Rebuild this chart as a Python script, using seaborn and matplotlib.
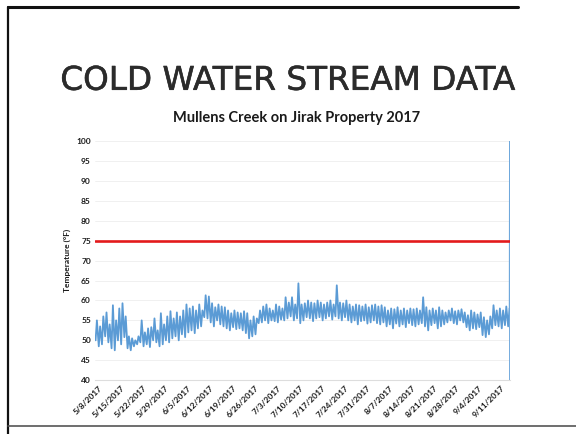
import matplotlib
matplotlib.use("Agg")
import matplotlib.pyplot as plt
import matplotlib.patheffects as pe
from matplotlib.lines import Line2D
import seaborn as sns
import pandas as pd

# daily stream temperature readings (deg F), 5/7/2017 .. 9/13/2017
start_day = "2017-05-07"
daily_lows = [
    50, 48.5, 49, 51, 49.5, 48, 47.5, 50, 49, 50.8,
    48, 47.5, 48.5, 49, 49.5, 48.5, 49, 48.3, 50, 49.5,
    48.5, 49, 50, 49.5, 50.5, 51, 50, 51.5, 50.8, 52,
    52.5, 51.8, 53, 53.5, 55.8, 55.5, 54.5, 53.5, 55, 54,
    53.5, 53, 52.5, 53.3, 52.8, 53, 52.5, 51.8, 50.5, 51,
    51.5, 54.3, 54.5, 55, 54.3, 55, 54.8, 54.5, 55.2, 55,
    55.5, 56, 55, 55.5, 54.3, 55, 55.8, 55.5, 54.8, 55.5,
    55.8, 55, 55.5, 56, 55.2, 56, 55.5, 55, 55.8, 55,
    54.5, 55, 54, 54.8, 55, 54.2, 54.5, 55, 54.3, 54,
    54.5, 53.5, 54, 53, 54.2, 53.5, 54, 53.3, 54.3, 53.8,
    53.5, 54, 54.3, 53.5, 52.5, 53.8, 54.3, 53, 53.5, 54,
    54.5, 55, 54.3, 54, 55, 54.5, 53.3, 52.5, 53, 52.8,
    53.3, 51.3, 50.8, 51.5, 53, 53.8, 53.5, 53, 53.8, 53.5,
]
daily_highs = [
    55, 53.5, 56, 57, 54, 58.8, 55, 58, 59.3, 56,
    51, 50.5, 50, 51, 55, 52, 53, 53.3, 55.5, 52.5,
    56.8, 54, 56, 57.3, 55.5, 57, 56, 57.5, 59, 58,
    58.5, 57.5, 59, 57.5, 61.3, 61, 59.3, 58.3, 59, 58.5,
    58.3, 57.5, 56.8, 57.5, 57, 56.8, 57.3, 56.8, 55, 56,
    55.5, 57.5, 58.5, 59, 58, 57.5, 59, 58.5, 58, 60.8,
    59.5, 60.8, 59, 64.3, 59, 59.3, 60, 59.5, 59.3, 60,
    59.5, 59, 59.5, 60, 59, 63.8, 59.5, 59.3, 60, 59,
    58.5, 59, 58.8, 58.5, 59, 58.3, 58.8, 59, 58.5, 58.8,
    58.3, 57.5, 58, 57.8, 58.3, 57.5, 58, 57.5, 58, 57.8,
    58, 57.5, 60.8, 58.3, 57.5, 58, 57.5, 58.3, 57.5, 57,
    57.5, 58, 57.3, 57.5, 57.8, 57, 56.3, 57.5, 57, 56.5,
    57, 55.8, 55, 56, 58.8, 57.5, 58, 57.5, 58.5, 58,
]
# logger pulled out of the water at the end of the season
retrieval_temps = [101, 39]
threshold_f = 75

days = pd.date_range(start_day, periods=len(daily_lows), freq="D")
rows = []
for d, lo, hi in zip(days, daily_lows, daily_highs):
    rows.append((d + pd.Timedelta(hours=4), lo))
    rows.append((d + pd.Timedelta(hours=14), hi))
temps = pd.DataFrame(rows, columns=["time", "temp"])

end_time = days[-1] + pd.Timedelta(hours=16)
retrieval = pd.DataFrame({"time": [end_time] * len(retrieval_temps),
                          "temp": retrieval_temps})
retrieval = pd.concat([temps.tail(1), retrieval], ignore_index=True)
limit = pd.DataFrame({"time": [days[0], end_time], "temp": [threshold_f] * 2})

tick_dates = pd.date_range("2017-05-08", "2017-09-11", freq="7D")

sns.set_style("white")
plt.rcParams["font.family"] = ["Lato", "DejaVu Sans"]

fig = plt.figure(figsize=(5.76, 4.34), dpi=100)
fig.patch.set_facecolor("white")

# scanned slide frame
fig.add_artist(Line2D([0.014, 0.9], [0.985, 0.985], color="#111111", lw=2.2))
fig.add_artist(Line2D([0.014, 0.014], [0.0, 0.985], color="#111111", lw=1.6))
fig.add_artist(Line2D([0.014, 1.0], [0.018, 0.018], color="#555555", lw=1.2))

fig.text(0.5, 0.815, "COLD WATER STREAM DATA", ha="center", va="center",
         fontsize=23.5, family="DejaVu Sans", color="#2b2b2b",
         path_effects=[pe.withStroke(linewidth=0.4, foreground="#2b2b2b")])

ax = fig.add_axes([0.165, 0.124, 0.72, 0.551])
sns.lineplot(data=temps, x="time", y="temp", ax=ax, color="#5b9bd5", lw=1.3,
             estimator=None, sort=False)
sns.lineplot(data=retrieval, x="time", y="temp", ax=ax, color="#6fa8dc", lw=1.0,
             estimator=None, sort=False)
sns.lineplot(data=limit, x="time", y="temp", ax=ax, color="#e31a1c", lw=1.9,
             estimator=None)

ax.set_xlim(days[0], end_time)
ax.set_ylim(40, 100)
ax.set_yticks(range(40, 101, 5))
ax.set_xticks(tick_dates)
ax.set_xticklabels([f"{d.month}/{d.day}/{d.year}" for d in tick_dates],
                   rotation=45, ha="right", rotation_mode="anchor")
ax.tick_params(axis="both", length=0, labelsize=6, labelcolor="#1a1a1a", pad=3)
for lbl in ax.get_xticklabels() + ax.get_yticklabels():
    lbl.set_fontweight("bold")
ax.grid(axis="y", color="#eeeeee", lw=0.6)
for s in ["top", "right", "left"]:
    ax.spines[s].set_visible(False)
ax.spines["bottom"].set_color("#dddddd")
ax.set_xlabel("")
ax.set_ylabel("Temperature (°F)", fontsize=6, fontweight="bold", color="#1a1a1a")
ax.set_title("Mullens Creek on Jirak Property 2017", fontsize=10.5, x=0.485,
             fontweight="bold", color="#1a1a1a", pad=14)

fig.savefig("out.png", dpi=100)
